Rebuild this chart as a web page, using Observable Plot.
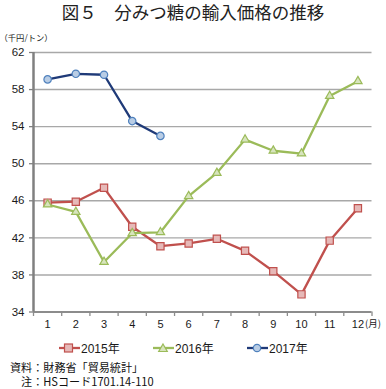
<!DOCTYPE html>
<html><head><meta charset="utf-8">
<script src="https://cdn.jsdelivr.net/npm/d3@7"></script>
<script src="https://cdn.jsdelivr.net/npm/@observablehq/plot@0.6"></script>
<style>
body{margin:0;background:#fff;width:386px;height:389px;overflow:hidden;position:relative;font-family:"Liberation Sans",Arial,"Noto Sans CJK JP",sans-serif;color:#1a1a1a;}
#title{position:absolute;left:0;top:2px;width:386px;text-align:center;font-family:"Noto Sans CJK JP",sans-serif;font-size:17.5px;line-height:20px;color:#222;}
#chart{position:absolute;left:0;top:0;}
.leg{position:absolute;top:340px;height:15px;display:flex;align-items:center;font-size:12px;font-family:"Liberation Sans","Noto Sans CJK JP",sans-serif;}
.leg svg{margin-right:1px;}
.note{position:absolute;left:10px;font-family:"Noto Sans CJK JP",sans-serif;font-size:11.1px;line-height:16px;white-space:pre;color:#111;}
</style></head>
<body>
<div id="title">図５　分みつ糖の輸入価格の推移</div>
<div id="chart"></div>
<div id="legend"></div>
<div class="note" style="top:358.5px">資料：財務省「貿易統計」</div>
<div class="note" style="top:373px">　注：HSコード1701.14-110</div>
<script>
const months = [1,2,3,4,5,6,7,8,9,10,11,12];
const monthLabels = ["1","2","3","4","5","6","7","8","9","10","11","12"];
const years = ["2015年","2016年","2017年"];
const v2015 = [45.8,45.9,47.4,43.2,41.1,41.4,41.9,40.6,38.4,35.9,41.7,45.2];
const v2016 = [45.6,44.8,39.4,42.5,42.6,46.5,49.0,52.6,51.4,51.1,57.3,58.9];
const v2017 = [59.1,59.7,59.6,54.6,53.0];
const yTicks = [34,38,42,46,50,54,58,62];
const unitLabel = "（千円/トン）";
const monthUnit = "(月)";

const styles = [
  {line:"#c0504d", fill:"#e6b9b8", stroke:"#c0504d", symbol:"square", r:4.1},
  {line:"#9bbb59", fill:"#d7e4bd", stroke:"#9bbb59", symbol:"triangle", r:3.1},
  {line:"#1f3a78", fill:"#b9cde5", stroke:"#4f81bd", symbol:"circle", r:3.7}
];
const seriesValues = [v2015, v2016, v2017];
const rowsFor = (vals) => vals.map((v,i) => ({month: months[i], value: v}));
const bounds = months.map(m => m - 0.5).concat([months[months.length-1] + 0.5]);

const seriesMarks = [];
seriesValues.forEach((vals, i) => {
  const s = styles[i];
  const rows = rowsFor(vals);
  seriesMarks.push(Plot.line(rows, {x:"month", y:"value", stroke:s.line, strokeWidth:2.3}));
  seriesMarks.push(Plot.dot(rows, {x:"month", y:"value", symbol:()=>s.symbol, r:s.r, fill:s.fill, stroke:s.stroke, strokeWidth:1.2, fillOpacity:1}));
});

const chart = Plot.plot({
  width:386, height:335,
  marginTop:52, marginBottom:23.5, marginLeft:33, marginRight:14.5,
  x:{type:"linear", domain:[bounds[0], bounds[bounds.length-1]], axis:null},
  y:{domain:[yTicks[0], yTicks[yTicks.length-1]], axis:null},
  symbol:{type:"identity"},
  style:{fontFamily:"'Liberation Sans', Arial, sans-serif", fontSize:"11.5px", color:"#1a1a1a", background:"transparent"},
  marks:[
    Plot.ruleY(yTicks.slice(1), {stroke:"#a8a8a8", strokeWidth:1.4}),
    Plot.ruleY(yTicks.slice(0,1), {stroke:"#8c8c8c", strokeWidth:2}),
    Plot.axisX(bounds, {anchor:"bottom", tickSize:4.5, tickFormat:()=>"", stroke:"#8c8c8c", strokeWidth:1.3, label:null}),
    Plot.axisX(months, {anchor:"bottom", tickSize:0, tickPadding:8, tickFormat:(d,i)=>monthLabels[i], fontSize:11, label:null}),
    Plot.axisY(yTicks, {anchor:"left", tickSize:4, tickPadding:5, stroke:"#808080", strokeWidth:1.3, fontSize:11.5, label:null}),
    Plot.ruleX(bounds.slice(0,1), {stroke:"#808080", strokeWidth:2.5}),
    Plot.text([unitLabel], {frameAnchor:"top-left", textAnchor:"start", dx:-34, dy:-17, fontSize:8.3, fontFamily:"'Noto Sans CJK JP', sans-serif"}),
    Plot.text([monthUnit], {frameAnchor:"bottom-right", textAnchor:"start", dx:-7, dy:15, fontSize:9.5, fontFamily:"'Noto Sans CJK JP', sans-serif"}),
    ...seriesMarks
  ]
});
document.getElementById("chart").appendChild(chart);

// legend
const legendLefts = [59, 153, 247];
const legend = document.getElementById("legend");
years.forEach((y, i) => {
  const s = styles[i];
  const div = document.createElement("div");
  div.className = "leg";
  div.style.left = legendLefts[i] + "px";
  let marker;
  if (s.symbol === "square") marker = `<rect x="5.5" y="2" width="8" height="8" fill="${s.fill}" stroke="${s.stroke}" stroke-width="1.2"/>`;
  else if (s.symbol === "triangle") marker = `<path d="M10,2 L14.3,9.5 L5.7,9.5 Z" fill="${s.fill}" stroke="${s.stroke}" stroke-width="1.2"/>`;
  else marker = `<circle cx="10" cy="6" r="3.7" fill="${s.fill}" stroke="${s.stroke}" stroke-width="1.2"/>`;
  div.innerHTML = `<svg width="21" height="12"><line x1="0" x2="21" y1="6" y2="6" stroke="${s.line}" stroke-width="2.3"/>${marker}</svg><span>${y}</span>`;
  legend.appendChild(div);
});
</script>
</body></html>
